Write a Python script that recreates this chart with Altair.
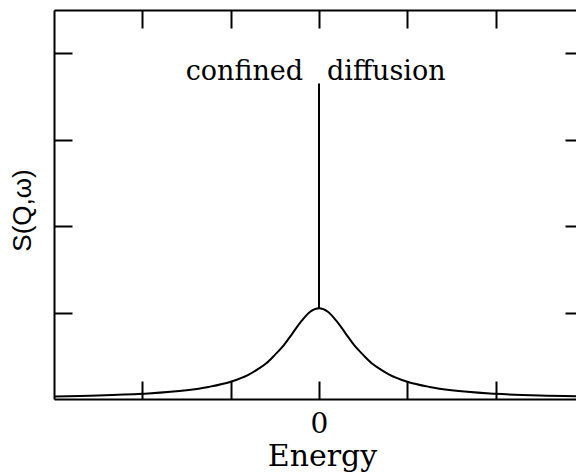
import altair as alt
import pandas as pd

# Quasielastic line shape S(Q, w) vs energy transfer
energy = [-3.0, -2.5, -2.0, -1.5, -1.25, -1.0, -0.8, -0.7, -0.6, -0.5, -0.4, -0.3, -0.2, -0.1, 0.0,
          0.1, 0.2, 0.3, 0.4, 0.5, 0.6, 0.7, 0.8, 1.0, 1.25, 1.5, 2.0, 2.5, 3.0]
intensity = [0.03, 0.04, 0.06, 0.10, 0.14, 0.20, 0.28, 0.34, 0.41, 0.51, 0.62, 0.76, 0.90, 1.01, 1.05,
             1.01, 0.90, 0.76, 0.62, 0.51, 0.41, 0.34, 0.28, 0.20, 0.14, 0.10, 0.06, 0.04, 0.03]

# Elastic (delta) component at zero energy
elastic_x = [0.0]
elastic_lo = [1.05]
elastic_hi = [3.65]

# Annotation
label_words = ["confined", "diffusion"]
label_x = [-0.18, 0.09]
label_y = [3.69, 3.69]

x_ticks = [-2, -1, 0, 1, 2]
y_ticks = [1, 2, 3, 4]

curve = pd.DataFrame({"x": energy, "y": intensity})
elastic = pd.DataFrame({"x": elastic_x, "lo": elastic_lo, "hi": elastic_hi})
words = pd.DataFrame({"word": label_words, "x": label_x, "y": label_y})

W, H = 522, 389
SERIF = "DejaVu Serif"
xscale = alt.Scale(domain=[-3, 2.909], nice=False, zero=False)
yscale = alt.Scale(domain=[0, 4.5], nice=False, zero=False)

def tick_axis(orient, size, **kw):
    return alt.Axis(orient=orient, offset=-size, tickSize=size, tickWidth=2, tickColor="black",
                    domain=False, grid=False, **kw)

def frame_axis(orient):
    return alt.Axis(orient=orient, offset=0, domain=True, domainWidth=2, domainColor="black",
                    ticks=False, labels=False, grid=False, title=None)

line = alt.Chart(curve).mark_line(color="black", strokeWidth=2, clip=True, interpolate="monotone").encode(
    x=alt.X("x:Q", scale=xscale, axis=tick_axis(
        "bottom", 18, values=x_ticks, labelExpr="datum.value == 0 ? '0' : ''", labelOverlap=False,
        labelFont=SERIF, labelFontSize=28, labelColor="black", labelPadding=11,
        title="Energy", titleFont=SERIF, titleFontSize=30, titleFontWeight="normal", titleColor="black",
        titleAlign="center", titleBaseline="alphabetic", titleX=268, titleY=84)),
    y=alt.Y("y:Q", scale=yscale, axis=tick_axis(
        "left", 18, values=y_ticks, labels=False,
        title="S(Q,ω)", titleFont="Liberation Sans", titleFontSize=26, titleFontWeight="normal",
        titleColor="black", titleAngle=270, titleAlign="center", titleBaseline="middle",
        titleX=-50, titleY=200)),
)

delta = alt.Chart(elastic).mark_rule(color="black", strokeWidth=2).encode(
    x=alt.X("x:Q", scale=xscale, axis=tick_axis("top", 18, values=x_ticks, labels=False, title=None)),
    y=alt.Y("lo:Q", scale=yscale, axis=tick_axis("right", 11, values=y_ticks, labels=False, title=None)),
    y2="hi:Q",
)

left_word = alt.Chart(words).transform_filter(alt.datum.word == "confined").mark_text(
    font=SERIF, fontSize=27, color="black", align="right", baseline="alphabetic"
).encode(
    x=alt.X("x:Q", scale=xscale, axis=frame_axis("bottom")),
    y=alt.Y("y:Q", scale=yscale, axis=frame_axis("left")),
    text="word:N",
)

right_word = alt.Chart(words).transform_filter(alt.datum.word == "diffusion").mark_text(
    font=SERIF, fontSize=27, color="black", align="left", baseline="alphabetic"
).encode(
    x=alt.X("x:Q", scale=xscale, axis=frame_axis("top")),
    y=alt.Y("y:Q", scale=yscale, axis=None),
    text="word:N",
)

chart = alt.layer(line, delta, left_word, right_word).resolve_axis(
    x="independent", y="independent"
).properties(
    width=W, height=H,
    autosize=alt.AutoSizeParams(type="none"),
    padding={"left": 54, "top": 10, "right": 0, "bottom": 77},
).configure_view(stroke=None).configure(background="white")

chart.save("out.html", embed_options={"renderer": "svg", "actions": False})
